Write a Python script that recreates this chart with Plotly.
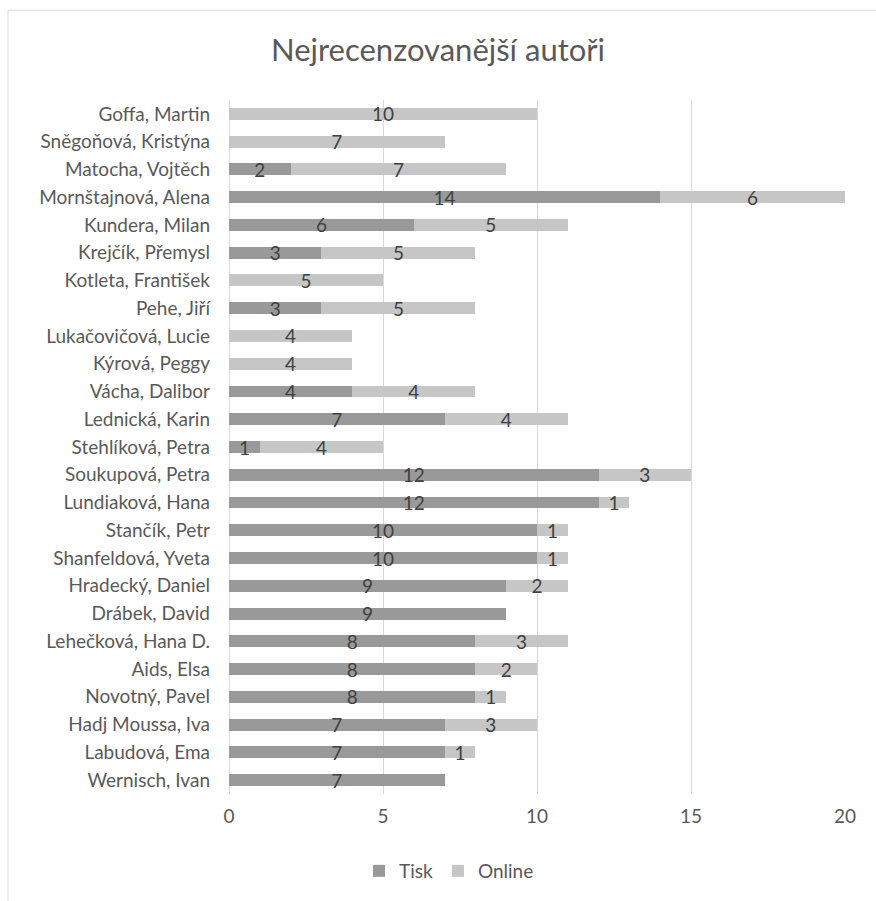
import plotly.graph_objects as go

# Authors, top to bottom as listed
authors = [
    "Goffa, Martin", "Sněgoňová, Kristýna", "Matocha, Vojtěch", "Mornštajnová, Alena",
    "Kundera, Milan", "Krejčík, Přemysl", "Kotleta, František", "Pehe, Jiří",
    "Lukačovičová, Lucie", "Kýrová, Peggy", "Vácha, Dalibor", "Lednická, Karin",
    "Stehlíková, Petra", "Soukupová, Petra", "Lundiaková, Hana", "Stančík, Petr",
    "Shanfeldová, Yveta", "Hradecký, Daniel", "Drábek, David", "Lehečková, Hana D.",
    "Aids, Elsa", "Novotný, Pavel", "Hadj Moussa, Iva", "Labudová, Ema", "Wernisch, Ivan",
]
tisk = [0, 0, 2, 14, 6, 3, 0, 3, 0, 0, 4, 7, 1, 12, 12, 10, 10, 9, 9, 8, 8, 8, 7, 7, 7]
online = [10, 7, 7, 6, 5, 5, 5, 5, 4, 4, 4, 4, 4, 3, 1, 1, 1, 2, 0, 3, 2, 1, 3, 1, 0]
x_ticks = [0, 5, 10, 15, 20]

FONT = "Lato"
TEXT_GREY = "#595959"
LABEL_GREY = "#404040"


def labels(values):
    return [str(v) if v else "" for v in values]


fig = go.Figure()
for name, vals, color in [("Tisk", tisk, "#999999"), ("Online", online, "#c6c6c6")]:
    fig.add_trace(go.Bar(
        y=authors, x=vals, name=name, orientation="h",
        marker=dict(color=color, line=dict(width=0)),
        text=labels(vals), textposition="inside", insidetextanchor="middle",
        textangle=0, constraintext="none",
        textfont=dict(family=FONT, size=19, color=LABEL_GREY),
        hoverinfo="x+y+name",
    ))

W, H = 876, 901
L, R, T, B = 229, 31, 100, 106
pw, ph = W - L - R, H - T - B


def px_x(p):
    return (p - L) / pw


def px_y(p):
    return (H - B - p) / ph


fig.update_layout(
    width=W, height=H,
    barmode="stack", bargap=0.57,
    margin=dict(l=L, r=R, t=T, b=B, pad=0),
    paper_bgcolor="white", plot_bgcolor="white",
    font=dict(family=FONT, size=19, color=TEXT_GREY),
    title=dict(text="Nejrecenzovanější autoři", x=0.5, xanchor="center",
               y=1 - 50 / H, yanchor="middle",
               font=dict(family=FONT, size=31, color=TEXT_GREY)),
    xaxis=dict(range=[0, 20], tickvals=x_ticks, showgrid=True, gridcolor="#d9d9d9",
               gridwidth=1, zeroline=True, zerolinecolor="#d9d9d9", zerolinewidth=1,
               showline=False, ticks="", ticklabelstandoff=9,
               tickfont=dict(family=FONT, size=19, color=TEXT_GREY), fixedrange=True),
    yaxis=dict(categoryorder="array", categoryarray=authors[::-1], autorange=False,
               range=[-0.5, len(authors) - 0.5], showgrid=False, zeroline=False,
               showline=False, ticks="", ticklabelstandoff=18,
               tickfont=dict(family=FONT, size=19, color=TEXT_GREY), fixedrange=True),
    legend=dict(orientation="h", x=px_x(449), xanchor="center", y=px_y(871),
                yanchor="middle", font=dict(family=FONT, size=19, color=TEXT_GREY),
                itemwidth=30, traceorder="normal", bgcolor="rgba(0,0,0,0)"),
    showlegend=True,
    shapes=[dict(type="rect", xref="paper", yref="paper",
                 x0=px_x(8), x1=px_x(890), y0=px_y(915), y1=px_y(10),
                 line=dict(color="#d9d9d9", width=1), fillcolor="rgba(0,0,0,0)",
                 layer="below")],
)

fig.write_html("out.html")
